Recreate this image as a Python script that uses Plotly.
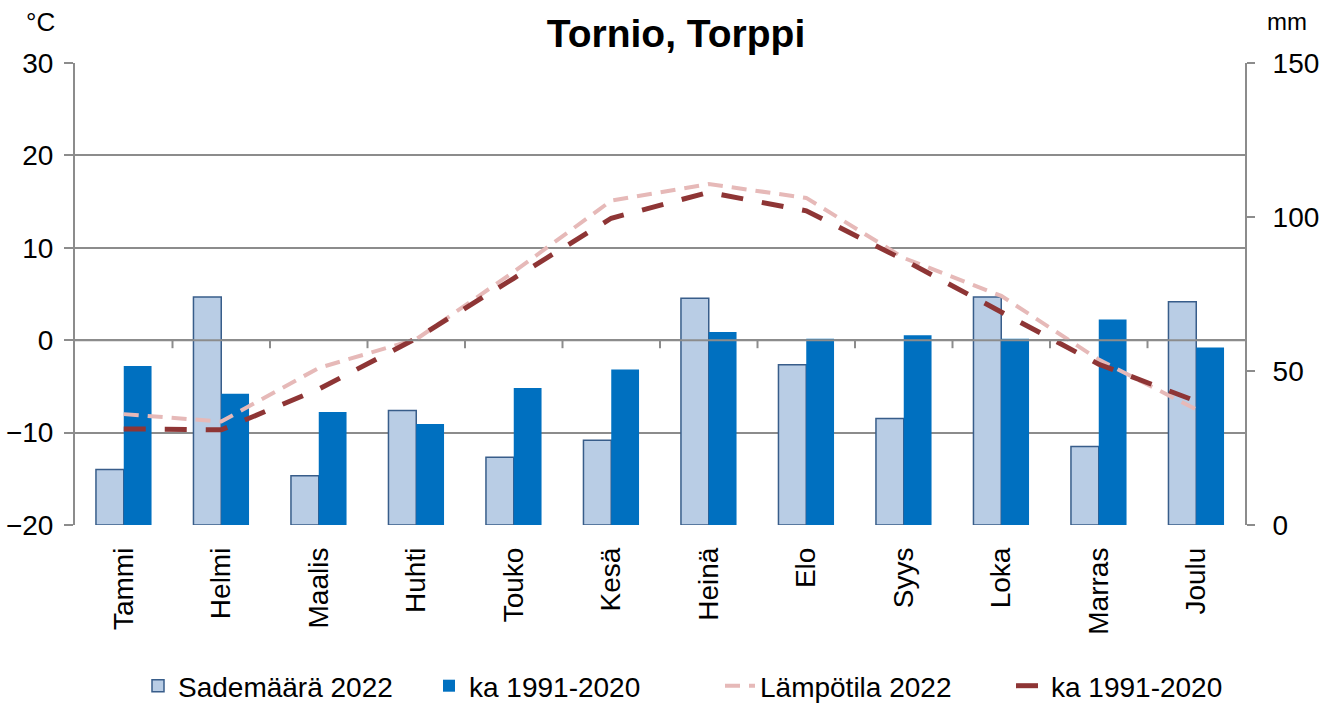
import plotly.graph_objects as go

months = ["Tammi", "Helmi", "Maalis", "Huhti", "Touko", "Kesä",
          "Heinä", "Elo", "Syys", "Loka", "Marras", "Joulu"]
precip_2022 = [18.0, 74.0, 16.0, 37.2, 22.0, 27.5, 73.6, 52.0, 34.6, 74.0, 25.5, 72.5]
precip_avg = [51.6, 42.6, 36.7, 32.8, 44.5, 50.5, 62.7, 60.5, 61.6, 60.5, 66.7, 57.6]
temp_2022 = [-8.0, -8.8, -3.0, 0.1, 7.4, 15.1, 16.9, 15.4, 8.9, 4.8, -2.1, -7.5]
temp_avg = [-9.6, -9.7, -5.3, 0.2, 6.7, 13.2, 16.0, 14.0, 8.7, 3.0, -2.6, -6.6]
temp_ticks = [-20, -10, 0, 10, 20, 30]
mm_ticks = [0, 50, 100, 150]

FONT = "Liberation Sans, Arial, sans-serif"
GRID = "#8c8c8c"
W, H = 1335, 704
L, R, T, B = 75, 90, 63, 179
PW, PH = W - L - R, H - T - B

fig = go.Figure()
fig.add_trace(go.Bar(x=months, y=precip_2022, name="Sademäärä 2022", yaxis="y",
                     marker=dict(color="#B9CDE5", line=dict(color="#385D8A", width=1.5))))
fig.add_trace(go.Bar(x=months, y=precip_avg, name="ka 1991-2020", yaxis="y",
                     marker=dict(color="#0070C0", line=dict(width=0))))
fig.add_trace(go.Scatter(x=months, y=temp_2022, name="Lämpötila 2022", yaxis="y2",
                         mode="lines", line=dict(color="#E6B9B8", width=4, dash="15px,9px")))
fig.add_trace(go.Scatter(x=months, y=temp_avg, name="ka 1991-2020", yaxis="y2",
                         mode="lines", line=dict(color="#8E3535", width=5, dash="22px,19px")))

shapes = [dict(type="line", xref="paper", x0=0, x1=1, yref="y2", y0=0, y1=0,
               line=dict(color=GRID, width=2), layer="above")]
for i in range(len(months) - 1):
    shapes.append(dict(type="line", xref="x", x0=i + 0.5, x1=i + 0.5, yref="y2",
                       ysizemode="pixel", yanchor=0, y0=0, y1=-8,
                       line=dict(color=GRID, width=2), layer="above"))


def px_x(px):
    return (px - L) / PW


def px_y(py):
    return (H - B - py) / PH


fig.update_layout(
    width=W, height=H,
    margin=dict(l=L, r=R, t=T, b=B, autoexpand=False),
    paper_bgcolor="white", plot_bgcolor="white",
    font=dict(family=FONT, size=28, color="black"),
    barmode="group", bargap=0.43, bargroupgap=0,
    title=dict(text="<b>Tornio, Torppi</b>", x=676 / W, xanchor="center",
               y=1 - 33 / H, yanchor="middle", font=dict(size=39, family=FONT)),
    xaxis=dict(type="category", range=[-0.5, 11.5], showgrid=False, showline=False,
               ticks="", tickangle=-90, ticklabelstandoff=16, automargin=False,
               tickfont=dict(size=28)),
    yaxis=dict(range=[0, 150], tickvals=mm_ticks, side="right", showgrid=False,
               zeroline=False, showline=True, linecolor=GRID, linewidth=2,
               ticks="outside", ticklen=8, tickcolor=GRID, tickwidth=2, automargin=False,
               ticklabelstandoff=12, tickfont=dict(size=28)),
    yaxis2=dict(range=[-20, 30], tickvals=temp_ticks, side="left", overlaying="y",
                showgrid=True, gridcolor=GRID, gridwidth=2, zeroline=False,
                showline=True, linecolor=GRID, linewidth=2, automargin=False,
                ticks="outside", ticklen=9, tickcolor=GRID, tickwidth=2,
                ticklabelstandoff=5, tickfont=dict(size=28)),
    legend=dict(orientation="h", xref="container", yref="container",
                x=138 / W, xanchor="left", y=1 - 686 / H, yanchor="middle",
                font=dict(size=28), traceorder="normal", entrywidth=246,
                tracegroupgap=0),
    shapes=shapes,
    annotations=[
        dict(text="°C", xref="paper", yref="paper", x=px_x(40), y=px_y(22),
             xanchor="center", yanchor="middle", showarrow=False, font=dict(size=26)),
        dict(text="mm", xref="paper", yref="paper", x=px_x(1287), y=px_y(22),
             xanchor="center", yanchor="middle", showarrow=False, font=dict(size=24)),
    ],
)

fig.write_html("out.html")
